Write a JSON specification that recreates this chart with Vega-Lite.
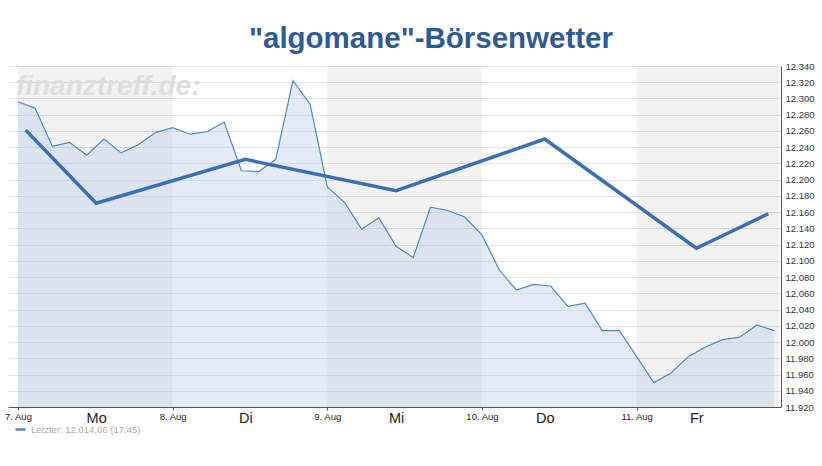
{
  "$schema": "https://vega.github.io/schema/vega-lite/v6.json",
  "width": 773,
  "height": 341,
  "autosize": {"type": "none"},
  "padding": {"left": 8, "top": 66, "right": 41, "bottom": 59},
  "background": "white",
  "config": {"view": {"stroke": null}, "font": "Liberation Sans"},
  "title": {
    "text": "\"algomane\"-Börsenwetter",
    "font": "Liberation Sans",
    "fontSize": 29.5,
    "fontWeight": "bold",
    "color": "#2e5b94",
    "anchor": "middle",
    "frame": "group",
    "dx": 36.5,
    "offset": -16,
    "baseline": "alphabetic"
  },
  "datasets": {
    "bands": [
      {"start": 0, "end": 9},
      {"start": 18, "end": 27},
      {"start": 36, "end": 44.3}
    ],
    "kurs": [
      {"i": 0, "v": 12296}, {"i": 1, "v": 12288}, {"i": 2, "v": 12241}, {"i": 3, "v": 12246},
      {"i": 4, "v": 12230}, {"i": 5, "v": 12250}, {"i": 6, "v": 12233}, {"i": 7, "v": 12243},
      {"i": 8, "v": 12258}, {"i": 9, "v": 12264}, {"i": 10, "v": 12256}, {"i": 11, "v": 12259},
      {"i": 12, "v": 12271}, {"i": 13, "v": 12211}, {"i": 14, "v": 12210}, {"i": 15, "v": 12225},
      {"i": 16, "v": 12322}, {"i": 17, "v": 12293}, {"i": 18, "v": 12191}, {"i": 19, "v": 12172},
      {"i": 20, "v": 12139}, {"i": 21, "v": 12153}, {"i": 22, "v": 12118}, {"i": 23, "v": 12104},
      {"i": 24, "v": 12166}, {"i": 25, "v": 12162}, {"i": 26, "v": 12154}, {"i": 27, "v": 12132},
      {"i": 28, "v": 12089}, {"i": 29, "v": 12064}, {"i": 30, "v": 12071}, {"i": 31, "v": 12069},
      {"i": 32, "v": 12044}, {"i": 33, "v": 12048}, {"i": 34, "v": 12014}, {"i": 35, "v": 12014},
      {"i": 36, "v": 11982}, {"i": 37, "v": 11950}, {"i": 38, "v": 11962}, {"i": 39, "v": 11982},
      {"i": 40, "v": 11994}, {"i": 41, "v": 12003}, {"i": 42, "v": 12006}, {"i": 43, "v": 12021},
      {"i": 44, "v": 12014.06}
    ],
    "wetter": [
      {"i": 0.45, "v": 12261},
      {"i": 4.55, "v": 12171},
      {"i": 13.23, "v": 12225},
      {"i": 22.0, "v": 12186.5},
      {"i": 30.65, "v": 12250},
      {"i": 39.47, "v": 12115.5},
      {"i": 43.66, "v": 12158}
    ]
  },
  "resolve": {"scale": {"x": "shared", "y": "shared"}, "axis": {"x": "independent"}},
  "layer": [
    {
      "data": {"name": "bands"},
      "mark": {"type": "rect", "color": "#000000", "opacity": 0.05},
      "encoding": {
        "x": {"field": "start", "type": "quantitative", "axis": null,
              "scale": {"domain": [-0.58, 44.4], "nice": false, "zero": false}},
        "x2": {"field": "end"}
      }
    },
    {
      "data": {"values": [{}]},
      "mark": {"type": "text", "text": "finanztreff.de:", "fontSize": 28, "fontStyle": "italic", "fontWeight": "bold", "color": "#dedede", "align": "left", "baseline": "alphabetic"},
      "encoding": {
        "x": {"datum": -0.12, "type": "quantitative", "axis": null},
        "y": {"datum": 12304, "type": "quantitative"}
      }
    },
    {
      "data": {"name": "kurs"},
      "mark": {"type": "area", "color": "#b6cee8", "opacity": 0.4},
      "encoding": {
        "x": {"field": "i", "type": "quantitative",
              "axis": {"orient": "bottom", "values": [0, 9, 18, 27, 36], "tickCount": 10, "title": null, "grid": false,
                       "labelExpr": "['7. Aug','8. Aug','9. Aug','10. Aug','11. Aug'][round(datum.value/9)]",
                       "domain": true, "domainColor": "#555555", "ticks": true, "tickSize": 3, "tickColor": "#555555",
                       "labelFontSize": 9.5, "labelColor": "#222222", "labelPadding": 1, "labelFlush": false, "labelOverlap": false}},
        "y": {"field": "v", "type": "quantitative",
              "scale": {"domain": [11920, 12340], "nice": false, "zero": false},
              "axis": {"orient": "right", "title": null, "tickCount": 40, "values": [11920, 11940, 11960, 11980, 12000, 12020, 12040, 12060, 12080, 12100, 12120, 12140, 12160, 12180, 12200, 12220, 12240, 12260, 12280, 12300, 12320, 12340],
                       "labelExpr": "replace(format(datum.value, ','), ',', '.')",
                       "domain": true, "domainColor": "#555555", "ticks": false, "labelPadding": 4,
                       "labelFontSize": 9.5, "labelColor": "#333333", "grid": true, "gridColor": "#e3e3e3",
                       "labelFlush": false, "labelOverlap": false}},
        "y2": {"datum": 11920}
      }
    },
    {
      "data": {"name": "kurs"},
      "mark": {"type": "line", "strokeWidth": 1.2},
      "encoding": {
        "x": {"field": "i", "type": "quantitative", "axis": null},
        "y": {"field": "v", "type": "quantitative"},
        "color": {"datum": "Letzter: 12.014,06 (17:45)", "type": "nominal",
                  "scale": {"range": ["#5285c3"]},
                  "legend": {"orient": "none", "legendX": 6, "legendY": 357, "title": null, "padding": 0,
                             "symbolType": "stroke", "symbolSize": 100, "symbolStrokeWidth": 2.5,
                             "labelFontSize": 9.5, "labelColor": "#aaaaaa", "labelOffset": 4}}
      }
    },
    {
      "data": {"name": "wetter"},
      "mark": {"type": "line", "strokeWidth": 3.5, "color": "#3a6fb5"},
      "encoding": {
        "x": {"field": "i", "type": "quantitative",
              "axis": {"orient": "bottom", "values": [4.55, 13.23, 22.0, 30.65, 39.47], "tickCount": 10, "title": null, "grid": false,
                       "labelExpr": "datum.value < 8 ? 'Mo' : datum.value < 17 ? 'Di' : datum.value < 26 ? 'Mi' : datum.value < 35 ? 'Do' : 'Fr'",
                       "domain": false, "ticks": false, "labelPadding": 4,
                       "labelFontSize": 14.5, "labelColor": "#222222", "labelFlush": false, "labelOverlap": false}},
        "y": {"field": "v", "type": "quantitative"}
      }
    }
  ]
}
